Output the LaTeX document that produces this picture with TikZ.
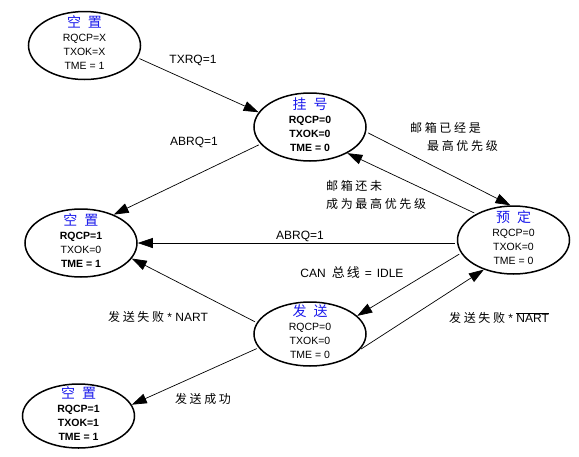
\documentclass[tikz,border=0pt]{standalone}
\usepackage{fontspec}
\setmainfont{Liberation Sans}
\newfontfamily\cjk[LetterSpace=22]{Noto Sans CJK SC}
\newfontfamily\cjkt{Noto Sans CJK SC}
\usetikzlibrary{arrows.meta,shapes.geometric}
\definecolor{ttlblue}{RGB}{25,25,235}
\newcommand\ttl[2]{{\cjkt\fontsize{14}{14}\selectfont\color{ttlblue}#1\hspace{7pt}#2}}
\newcommand\cn[1]{{\cjk #1}}
\newcommand\dn{\rule[-5pt]{0pt}{5pt}}
\begin{document}
\begin{tikzpicture}[x=1pt,y=-1pt,
  stbox/.style={draw, ellipse, line width=1.5pt, minimum width=112pt, minimum height=68pt, inner sep=0pt},
  sttext/.style={align=center, inner sep=0pt, font=\fontsize{10.5}{14}\selectfont},
  lbl/.style={inner sep=0pt, font=\fontsize{12}{18}\selectfont},
  conn/.style={line width=0.7pt, -{Triangle[length=15pt,width=10pt]}, shorten <=2pt},
]
\useasboundingbox (0,0) rectangle (579,456);

% states
\node[stbox] (e1) at (84.5,45.5) {};
\node[sttext] (t1) at (e1) {\ttl{空}{置}\\RQCP=X\\TXOK=X\\TME = 1\dn};

\node[stbox] (e2) at (310,127) {};
\node[sttext] (t2) at (e2) {\ttl{挂}{号}\\{\bfseries RQCP=0}\\{\bfseries TXOK=0}\\{\bfseries TME = 0}\dn};

\node[stbox] (e3) at (513.5,240) {};
\node[sttext] (t3) at (e3) {\ttl{预}{定}\\RQCP=0\\TXOK=0\\TME = 0\dn};

\node[stbox] (e4) at (81,243) {};
\node[sttext] (t4) at (e4) {\ttl{空}{置}\\{\bfseries RQCP=1}\\TXOK=0\\{\bfseries TME = 1}\dn};

\node[stbox, minimum height=64pt] (e5) at (310,334) {};
\node[sttext] (t5) at (e5) {\ttl{发}{送}\\RQCP=0\\TXOK=0\\TME = 0\dn};

\node[stbox, minimum height=64pt] (e6) at (78.5,416) {};
\node[sttext] (t6) at (e6) {\ttl{空}{置}\\{\bfseries RQCP=1}\\{\bfseries TXOK=1}\\{\bfseries TME = 1}\dn};

% connectors
\draw[conn] (e1.-13) -- (e2.164);
\draw[conn] (e2.199) -- (e4.41);
\draw[conn] (e2.-5) -- (e3.95);
\draw[conn] (e3.145) -- (e2.-35);
\draw[conn] (e3.west |- e4.east) -- (e4.east);
\draw[conn] (e3.194) -- (e5.21);
\draw[conn] (e5.-18) -- (e3.225);
\draw[conn] (e5.168) -- (e4.-17);
\draw[conn] (e5.195) -- (e6.12);

% labels
\node[lbl] (l1) at (193,60) {TXRQ=1};
\node[lbl] (l2) at (194,142) {ABRQ=1};
\node[lbl, align=left, anchor=west] (l3) at (410,137) {\cn{邮箱已经是}\\\hspace*{17pt}\cn{最高优先级}};
\node[lbl, align=left, anchor=west] (l4) at (326,194.5) {\cn{邮箱还未}\\\cn{成为最高优先级}};
\node[lbl] (l5) at (300,236) {ABRQ=1};
\node[lbl] (l6) at (352,273) {CAN\hspace{6pt}{\cjkt\fontsize{13}{13}\selectfont 总\hspace{2pt}线}\hspace{5pt}=\hspace{5pt}IDLE};
\node[lbl] (l7) at (499,318) {\cn{发送失败} * $\overline{\mbox{NART}}$};
\node[lbl] (l8) at (158,317) {\cn{发送失败} * NART};
\node[lbl] (l9) at (203,399) {\cn{发送成功}};
\end{tikzpicture}
\end{document}
